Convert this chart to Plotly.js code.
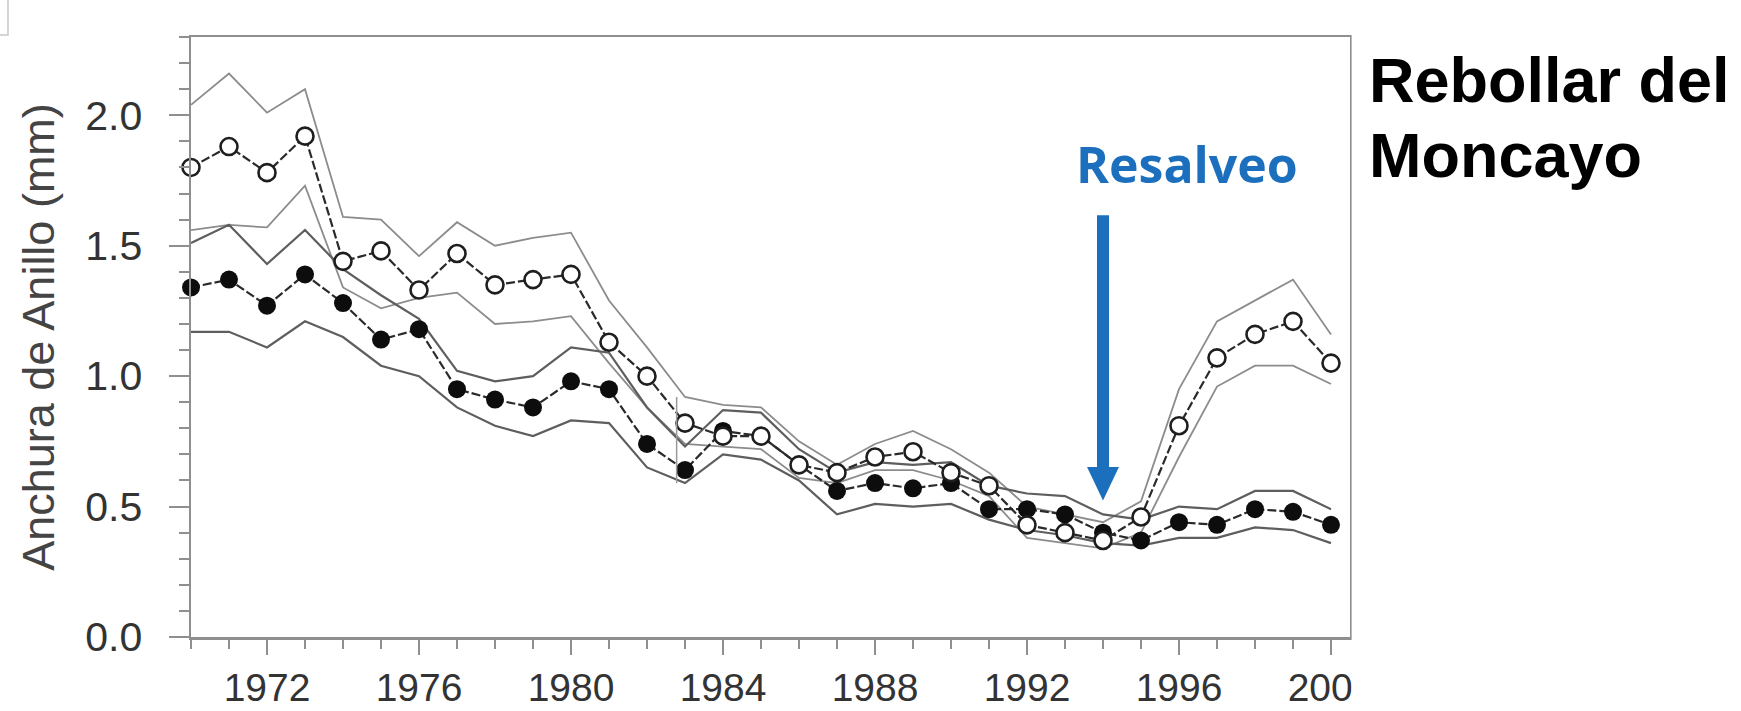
<!DOCTYPE html>
<html>
<head>
<meta charset="utf-8">
<script src="https://cdn.plot.ly/plotly-3.0.1.min.js"></script>
<style>
  html, body { margin: 0; padding: 0; background: #ffffff; }
  #chart { width: 1741px; height: 711px; }
</style>
</head>
<body>
<div id="chart"></div>
<script>
// Ring-width chronologies, Rebollar del Moncayo (mm per year)
const years = [1970, 1971, 1972, 1973, 1974, 1975, 1976, 1977, 1978, 1979,
               1980, 1981, 1982, 1983, 1984, 1985, 1986, 1987, 1988, 1989,
               1990, 1991, 1992, 1993, 1994, 1995, 1996, 1997, 1998, 1999, 2000];

// Open circles: mean and confidence band
const openMean  = [1.80, 1.88, 1.78, 1.92, 1.44, 1.48, 1.33, 1.47, 1.35, 1.37,
                   1.39, 1.13, 1.00, 0.82, 0.77, 0.77, 0.66, 0.63, 0.69, 0.71,
                   0.63, 0.58, 0.43, 0.40, 0.37, 0.46, 0.81, 1.07, 1.16, 1.21, 1.05];
const openUpper = [2.04, 2.16, 2.01, 2.10, 1.61, 1.60, 1.46, 1.59, 1.50, 1.53,
                   1.55, 1.29, 1.11, 0.92, 0.89, 0.88, 0.75, 0.66, 0.74, 0.79,
                   0.72, 0.63, 0.50, 0.47, 0.44, 0.52, 0.95, 1.21, 1.29, 1.37, 1.16];
const openLower = [1.56, 1.58, 1.57, 1.73, 1.34, 1.26, 1.30, 1.32, 1.20, 1.21,
                   1.23, 1.05, 0.88, 0.74, 0.73, 0.72, 0.61, 0.59, 0.64, 0.64,
                   0.60, 0.54, 0.38, 0.36, 0.34, 0.40, 0.69, 0.96, 1.04, 1.04, 0.97];

// Filled circles: mean and confidence band
const filledMean  = [1.34, 1.37, 1.27, 1.39, 1.28, 1.14, 1.18, 0.95, 0.91, 0.88,
                     0.98, 0.95, 0.74, 0.64, 0.79, 0.77, 0.66, 0.56, 0.59, 0.57,
                     0.59, 0.49, 0.49, 0.47, 0.40, 0.37, 0.44, 0.43, 0.49, 0.48, 0.43];
const filledUpper = [1.51, 1.58, 1.43, 1.56, 1.41, 1.31, 1.22, 1.02, 0.98, 1.00,
                     1.11, 1.09, 0.88, 0.73, 0.87, 0.86, 0.72, 0.63, 0.67, 0.66,
                     0.67, 0.58, 0.55, 0.54, 0.47, 0.45, 0.50, 0.49, 0.56, 0.56, 0.49];
const filledLower = [1.17, 1.17, 1.11, 1.21, 1.15, 1.04, 1.00, 0.88, 0.81, 0.77,
                     0.83, 0.82, 0.65, 0.59, 0.70, 0.68, 0.60, 0.47, 0.51, 0.50,
                     0.51, 0.45, 0.41, 0.39, 0.36, 0.35, 0.38, 0.38, 0.42, 0.41, 0.36];

// Thinning event
const thinningYear = 1994;
const thinningLabel = 'Resalveo';
const siteName = ['Rebollar del', 'Moncayo'];
const yTitle = 'Anchura de Anillo (mm)';

const blue = '#1b6fbd';
const axisGray = '#8f8f8f';
const labelFont = 'Liberation Sans, Arial, Helvetica, sans-serif';

function band(y, color, width) {
  return {
    x: years, y: y, type: 'scatter', mode: 'lines',
    line: { color: color, width: width },
    hoverinfo: 'skip', showlegend: false, cliponaxis: false
  };
}

const traces = [
  band(openUpper, '#8c8c8c', 1.8),
  band(openLower, '#8c8c8c', 1.8),
  band(filledUpper, '#5e5e5e', 2.2),
  band(filledLower, '#5e5e5e', 2.2),
  {
    x: years, y: filledMean, type: 'scatter', mode: 'lines+markers',
    line: { color: '#2a2a2a', width: 2.2, dash: '9px,3px' },
    marker: { symbol: 'circle', size: 18, color: '#0d0d0d', line: { width: 0 } },
    showlegend: false, cliponaxis: false
  },
  {
    x: years, y: openMean, type: 'scatter', mode: 'lines+markers',
    line: { color: '#2a2a2a', width: 2.2, dash: '9px,3px' },
    marker: { symbol: 'circle', size: 17, color: '#ffffff', line: { color: '#1e1e1e', width: 2.6 } },
    showlegend: false, cliponaxis: false
  }
];

const layout = {
  width: 1741, height: 711,
  paper_bgcolor: '#ffffff', plot_bgcolor: '#ffffff',
  margin: { l: 191, r: 391, t: 37, b: 74, pad: 0 },
  showlegend: false,
  xaxis: {
    range: [1970, 2000.5],
    tick0: 1972, dtick: 4,
    ticks: 'outside', ticklen: 15, tickwidth: 2, tickcolor: axisGray,
    ticklabelstandoff: 0,
    minor: { tick0: 1970, dtick: 1, ticks: 'outside', ticklen: 9, tickwidth: 2, tickcolor: axisGray, showgrid: false },
    showline: true, linecolor: axisGray, linewidth: 2.5, mirror: true,
    showgrid: false, zeroline: false,
    tickfont: { family: labelFont, size: 39, color: '#333333' }
  },
  yaxis: {
    range: [0, 2.30],
    tick0: 0, dtick: 0.5, tickformat: '.1f',
    ticks: 'outside', ticklen: 20, tickwidth: 2, tickcolor: axisGray,
    ticklabelstandoff: 18,
    minor: { tick0: 0, dtick: 0.1, ticks: 'outside', ticklen: 10, tickwidth: 2, tickcolor: axisGray, showgrid: false },
    showline: true, linecolor: axisGray, linewidth: 2.5, mirror: true,
    showgrid: false, zeroline: false,
    tickfont: { family: labelFont, size: 41, color: '#333333' },
    title: { text: yTitle, font: { family: labelFont, size: 45, color: '#444444' }, standoff: 17 }
  },
  shapes: [
    // splice seam in the series around 1983
    { type: 'line', xref: 'x', yref: 'y', x0: 1982.78, x1: 1982.78, y0: 0.59, y1: 0.92,
      line: { color: '#9a9a9a', width: 1.5 } },
    // arrow shaft and head marking the thinning year
    { type: 'line', xref: 'x', yref: 'y', x0: thinningYear, x1: thinningYear, y0: 1.617, y1: 0.64,
      line: { color: blue, width: 12 } },
    { type: 'path', xref: 'x', yref: 'y',
      path: 'M ' + (thinningYear - 0.42) + ' 0.652 L ' + (thinningYear + 0.42) + ' 0.652 L ' + thinningYear + ' 0.523 Z',
      fillcolor: blue, line: { width: 0 } },
    // white panel on the right that trims the last tick label
    { type: 'rect', xref: 'paper', yref: 'paper', x0: 1.0014, x1: 1.4, y0: -0.2, y1: 1.2,
      fillcolor: '#ffffff', line: { width: 0 }, layer: 'above' },
    // small frame corner at the top left
    { type: 'path', xref: 'paper', yref: 'paper',
      path: 'M -0.1648 1.0033 L -0.1579 1.0033 L -0.1579 1.07',
      line: { color: '#c8c8c8', width: 1.5 }, layer: 'above' }
  ],
  annotations: [
    { text: thinningLabel, xref: 'x', yref: 'paper', x: thinningYear + 2.2, y: 0.789,
      xanchor: 'center', yanchor: 'middle', showarrow: false,
      font: { family: 'Open Sans, Noto Sans, sans-serif', size: 50, color: blue, weight: 700 } },
    { text: siteName[0], xref: 'paper', yref: 'paper', x: 1.0145, y: 0.928,
      xanchor: 'left', yanchor: 'middle', showarrow: false,
      font: { family: labelFont, size: 63, color: '#000000', weight: 700 } },
    { text: siteName[1], xref: 'paper', yref: 'paper', x: 1.0145, y: 0.803,
      xanchor: 'left', yanchor: 'middle', showarrow: false,
      font: { family: labelFont, size: 63, color: '#000000', weight: 700 } }
  ]
};

Plotly.newPlot('chart', traces, layout, { staticPlot: true, displayModeBar: false });
</script>
</body>
</html>
